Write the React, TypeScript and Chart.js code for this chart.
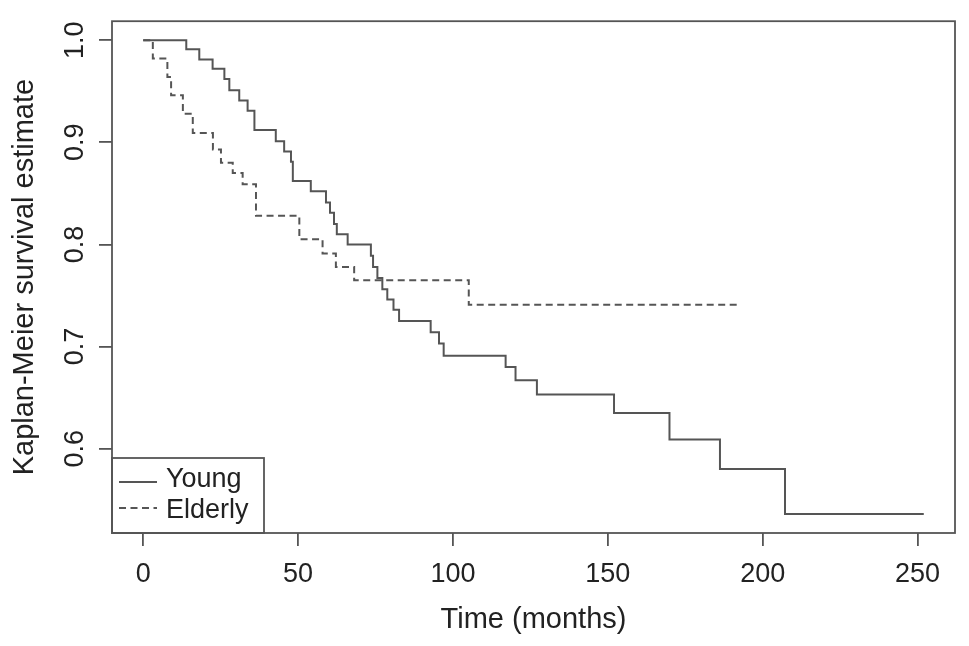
import { useEffect, useRef } from "react";
import { Chart, registerables } from "chart.js";

Chart.register(...registerables);

// ---- Data ----
const youngTimes = [0, 13.9, 18.1, 22.4, 26.2, 27.8, 31.0, 33.7, 35.9, 42.8, 45.5, 47.7, 48.3, 54.1, 59.0, 60.3, 61.6, 62.5, 66.0, 73.5, 74.2, 75.6, 77.2, 78.8, 80.8, 82.6, 92.8, 95.5, 97.0, 117.0, 120.2, 127.1, 152.0, 169.9, 186.2, 207.2, 252];
const youngSurvival = [1.0, 0.991, 0.981, 0.972, 0.962, 0.951, 0.941, 0.931, 0.912, 0.901, 0.891, 0.881, 0.862, 0.852, 0.841, 0.831, 0.820, 0.810, 0.800, 0.789, 0.778, 0.767, 0.756, 0.746, 0.736, 0.725, 0.714, 0.703, 0.691, 0.680, 0.667, 0.653, 0.635, 0.609, 0.580, 0.536, 0.536];
const elderlyTimes = [0, 3.1, 7.8, 9.0, 12.8, 16.0, 22.5, 25.1, 28.9, 32.1, 36.4, 50.4, 57.9, 62.2, 68.1, 105.1, 192];
const elderlySurvival = [1.0, 0.982, 0.964, 0.946, 0.928, 0.909, 0.893, 0.880, 0.870, 0.859, 0.828, 0.805, 0.791, 0.778, 0.765, 0.741, 0.741];

const seriesLabels = ["Young", "Elderly"];
const xTicks = [0, 50, 100, 150, 200, 250];
const yTicks = [0.6, 0.7, 0.8, 0.9, 1.0];
const xTitle = "Time (months)";
const yTitle = "Kaplan-Meier survival estimate";

// ---- Styles ----
const LINE = "#555555";
const TEXT = "#222222";
const FONT = "'Liberation Sans', Arial, Helvetica, sans-serif";

// R-style 4% axis extension
function rRange(vals: number[]) {
  const lo = Math.min(...vals);
  const hi = Math.max(...vals);
  const d = (hi - lo) * 0.04;
  return [lo - d, hi + d];
}

const boxPlugin = {
  id: "rBox",
  afterDraw(chart: any) {
    const { ctx, chartArea } = chart;
    ctx.save();
    ctx.strokeStyle = LINE;
    ctx.lineWidth = 1.8;
    ctx.strokeRect(chartArea.left, chartArea.top, chartArea.right - chartArea.left, chartArea.bottom - chartArea.top);
    ctx.restore();
  },
};

const legendPlugin = {
  id: "rLegend",
  afterDatasetsDraw(chart: any) {
    const { ctx, chartArea } = chart;
    const w = 152;
    const h = 75;
    const left = chartArea.left;
    const top = chartArea.bottom - h;
    ctx.save();
    ctx.fillStyle = "#ffffff";
    ctx.fillRect(left, top, w, h);
    ctx.strokeStyle = LINE;
    ctx.lineWidth = 1.8;
    ctx.strokeRect(left, top, w, h);
    chart.data.datasets.forEach((ds: any, i: number) => {
      const y = top + 24 + i * 26;
      ctx.beginPath();
      ctx.setLineDash(ds.borderDash || []);
      ctx.strokeStyle = ds.borderColor;
      ctx.lineWidth = ds.borderWidth;
      ctx.moveTo(left + 7, y);
      ctx.lineTo(left + 45, y);
      ctx.stroke();
      ctx.setLineDash([]);
      ctx.fillStyle = TEXT;
      ctx.font = `27px ${FONT}`;
      ctx.textBaseline = "middle";
      ctx.textAlign = "left";
      ctx.fillText(ds.label, left + 54, y - 2 + i * 5);
    });
    ctx.restore();
  },
};

export default function App() {
  const canvasRef = useRef<HTMLCanvasElement | null>(null);

  useEffect(() => {
    if (!canvasRef.current) return;
    const [xMin, xMax] = rRange([...youngTimes, ...elderlyTimes]);
    const [yMin, yMax] = rRange([...youngSurvival, ...elderlySurvival]);

    const chart = new Chart(canvasRef.current, {
      type: "line",
      data: {
        datasets: [
          {
            label: seriesLabels[0],
            data: youngTimes.map((t, i) => ({ x: t, y: youngSurvival[i] })),
            borderColor: LINE,
            borderWidth: 2,
            stepped: "before",
            pointRadius: 0,
            fill: false,
          },
          {
            label: seriesLabels[1],
            data: elderlyTimes.map((t, i) => ({ x: t, y: elderlySurvival[i] })),
            borderColor: LINE,
            borderWidth: 2,
            borderDash: [7, 4.5],
            stepped: "before",
            pointRadius: 0,
            fill: false,
          },
        ],
      },
      options: {
        animation: false,
        responsive: true,
        maintainAspectRatio: false,
        layout: { padding: { top: 13, right: 14, left: 0, bottom: 0 } },
        plugins: {
          legend: { display: false },
          tooltip: { enabled: false },
        },
        scales: {
          x: {
            type: "linear",
            min: xMin,
            max: xMax,
            afterBuildTicks: (scale: any) => {
              scale.ticks = xTicks.map((v) => ({ value: v }));
            },
            afterFit: (scale: any) => {
              scale.height = 113;
            },
            border: { display: false },
            grid: { drawOnChartArea: false, drawTicks: true, tickLength: 13, color: LINE, lineWidth: 1.8 },
            ticks: {
              color: TEXT,
              font: { family: FONT, size: 27 },
              padding: 12,
              maxRotation: 0,
              autoSkip: false,
              callback: (v: any) => String(v),
            },
            title: {
              display: true,
              text: xTitle,
              color: TEXT,
              font: { family: FONT, size: 29 },
              padding: { top: 0, bottom: 9 },
            },
          },
          y: {
            type: "linear",
            min: yMin,
            max: yMax,
            afterBuildTicks: (scale: any) => {
              scale.ticks = yTicks.map((v) => ({ value: v }));
            },
            afterFit: (scale: any) => {
              scale.width = 112;
            },
            border: { display: false },
            grid: { drawOnChartArea: false, drawTicks: true, tickLength: 13, color: LINE, lineWidth: 1.8 },
            ticks: {
              color: TEXT,
              font: { family: FONT, size: 27 },
              padding: 5,
              minRotation: 90,
              maxRotation: 90,
              crossAlign: "center",
              autoSkip: false,
              callback: (v: any) => Number(v).toFixed(1),
            },
            title: {
              display: true,
              text: yTitle,
              color: TEXT,
              font: { family: FONT, size: 29 },
              padding: { top: 8, bottom: 0 },
            },
          },
        },
      } as any,
      plugins: [legendPlugin, boxPlugin],
    });
    return () => chart.destroy();
  }, []);

  return (
    <div style={{ position: "absolute", left: 0, top: 0, width: 969, height: 646, background: "#fff" }}>
      <canvas ref={canvasRef} />
    </div>
  );
}
